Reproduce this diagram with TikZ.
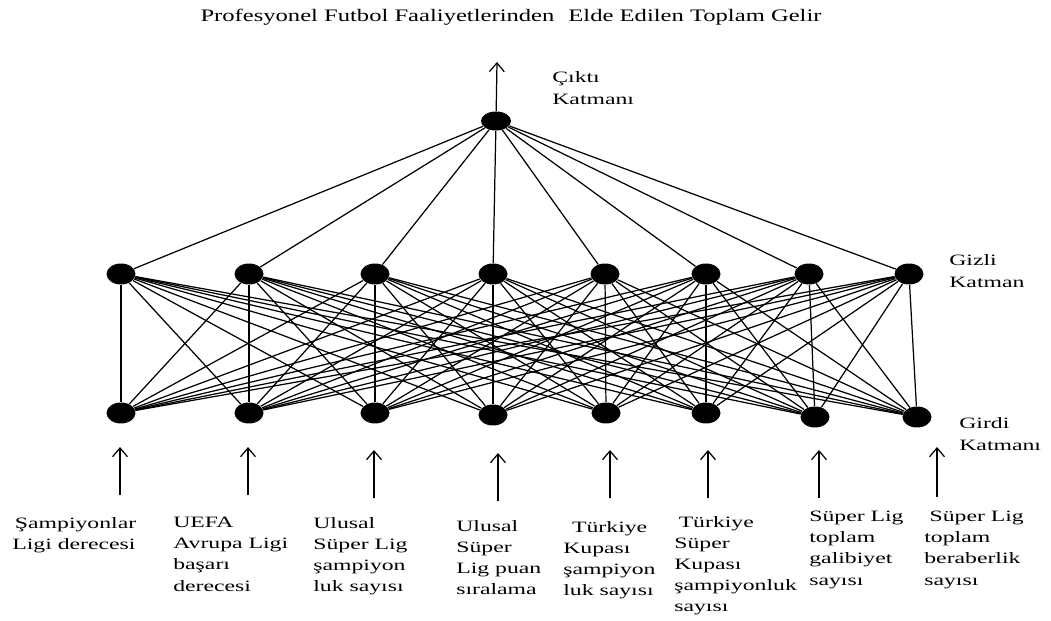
\documentclass[tikz,border=0pt]{standalone}
\usepackage{fontspec}
\setmainfont{Liberation Serif}[FakeStretch=1.5]
\newfontfamily\titlefont{Liberation Serif}[FakeStretch=1.4]
\usetikzlibrary{shapes.geometric, arrows.meta}

\begin{document}
\begin{tikzpicture}[x=0.02cm, y=-0.02cm,
    neuron/.style={ellipse, fill=black, minimum width=0.58cm, minimum height=0.42cm, inner sep=0pt},
    link/.style={line width=0.7pt},
    arr/.style={line width=0.7pt, -{Straight Barb[length=5pt, width=8.5pt]}},
    lbl/.style={font=\fontsize{9}{12}\selectfont, align=left, inner sep=0pt, anchor=north west},
    side/.style={font=\fontsize{9}{12.6}\selectfont, align=left, inner sep=0pt, anchor=north west}]
      \useasboundingbox (0, 0) rectangle (1051, 621);
      % title
      \node[font=\titlefont\fontsize{10}{12}\selectfont, inner sep=0pt, anchor=base] (title) at (511, 22)
        {Profesyonel Futbol Faaliyetlerinden\hspace{8pt}Elde Edilen Toplam Gelir};
      % output layer
      \node[neuron, minimum width=0.6cm, minimum height=0.38cm] (o) at (496, 121) {};
      \coordinate (otip) at (497, 62);
      \draw[arr] (o) -- (otip);
      \node[side] (olbl) at (552, 71) {Çıktı\\Katmanı};
      % hidden layer
      \node[neuron] (h1) at (121, 274) {};
      \node[neuron] (h2) at (249, 274) {};
      \node[neuron] (h3) at (375, 274) {};
      \node[neuron] (h4) at (493, 274) {};
      \node[neuron] (h5) at (605, 274) {};
      \node[neuron] (h6) at (706, 274) {};
      \node[neuron] (h7) at (809, 274) {};
      \node[neuron] (h8) at (909, 274) {};
      \node[side] (hlbl) at (949, 254) {Gizli\\Katman};
      % input layer
      \node[neuron] (i1) at (121, 413) {};
      \node[neuron] (i2) at (249, 413) {};
      \node[neuron] (i3) at (375, 413) {};
      \node[neuron] (i4) at (493, 415) {};
      \node[neuron] (i5) at (606, 413) {};
      \node[neuron] (i6) at (706, 413) {};
      \node[neuron] (i7) at (815, 417) {};
      \node[neuron] (i8) at (917, 417) {};
      \node[side] (ilbl) at (959, 417) {Girdi\\Katmanı};
      % connections
      \foreach \h in {1,...,8} {
        \draw[link] (o) -- (h\h);
        \foreach \i in {1,...,8}
          \draw[link] (h\h) -- (i\i);
      }
      % input arrows
      \coordinate (b1) at (120, 495); \coordinate (t1) at (120, 447);
      \coordinate (b2) at (248, 495); \coordinate (t2) at (248, 447);
      \coordinate (b3) at (374, 498); \coordinate (t3) at (374, 450);
      \coordinate (b4) at (498, 501); \coordinate (t4) at (498, 453);
      \coordinate (b5) at (610, 498); \coordinate (t5) at (610, 450);
      \coordinate (b6) at (708, 498); \coordinate (t6) at (708, 450);
      \coordinate (b7) at (819, 498); \coordinate (t7) at (819, 450);
      \coordinate (b8) at (937, 497); \coordinate (t8) at (937, 447);
      \foreach \k in {1,...,8}
        \draw[arr] (b\k) -- (t\k);
      % input labels
      \node[lbl] (l1) at (12, 517) {\hspace{1.5pt}Şampiyonlar\\Ligi derecesi};
      \node[lbl] (l2) at (173, 517) {UEFA\\Avrupa Ligi\\başarı\\derecesi};
      \node[lbl] (l3) at (313, 517) {Ulusal\\Süper Lig\\şampiyon\\luk sayısı};
      \node[lbl] (l4) at (456, 520) {Ulusal\\Süper\\Lig puan\\sıralama};
      \node[lbl] (l5) at (563, 521) {\hspace{5pt}Türkiye\\Kupası\\şampiyon\\luk sayısı};
      \node[lbl] (l6) at (674, 516) {\hspace{2.5pt}Türkiye\\Süper\\Kupası\\şampiyonluk\\sayısı};
      \node[lbl] (l7) at (809, 511) {Süper Lig\\toplam\\galibiyet\\sayısı};
      \node[lbl] (l8) at (924, 511) {\hspace{3pt}Süper Lig\\toplam\\beraberlik\\sayısı};
    \end{tikzpicture}
\end{document}
